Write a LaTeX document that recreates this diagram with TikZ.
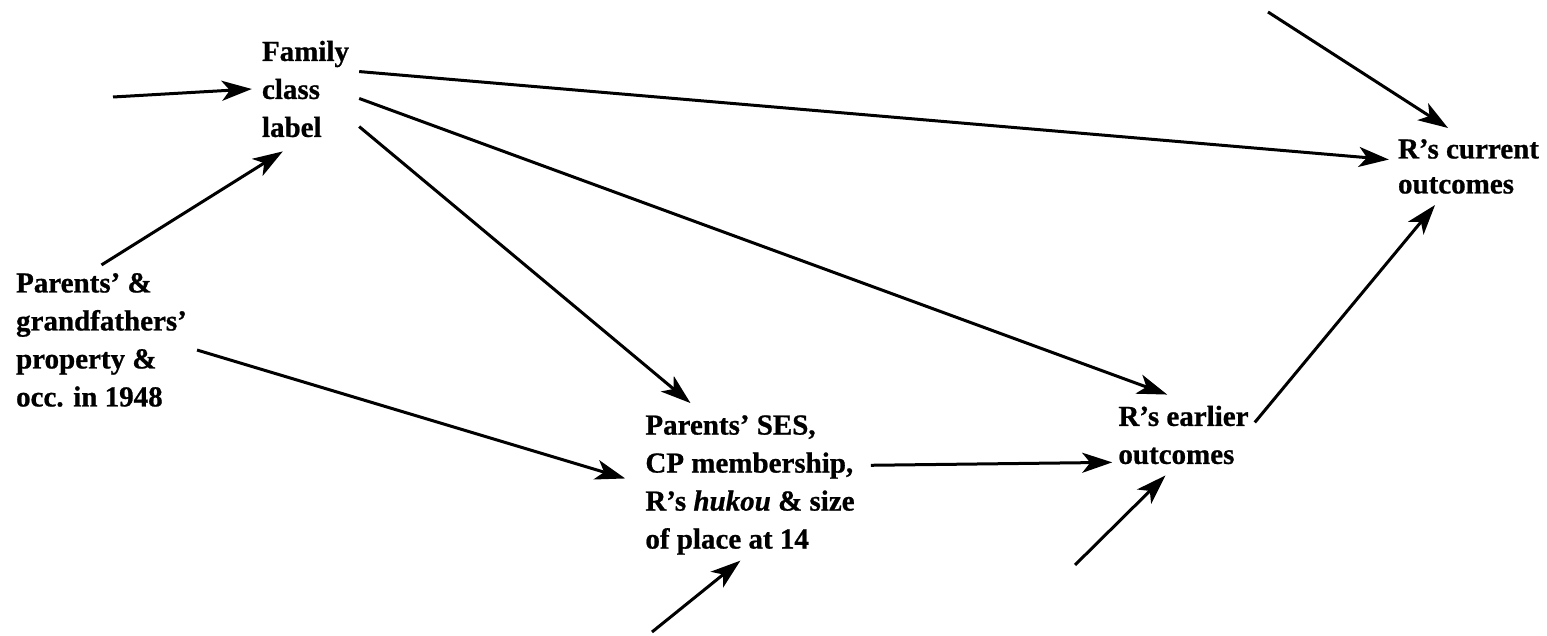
\documentclass[tikz,border=0pt]{standalone}
\usepackage{fontspec}
\setmainfont{Liberation Serif}[BoldFeatures={FakeBold=0.8},BoldItalicFeatures={FakeBold=0.8}]
\usetikzlibrary{arrows.meta}
\begin{document}
\begin{tikzpicture}[x=1pt,y=-1pt,
  lbl/.style={align=left, font=\fontsize{29}{38}\selectfont\bfseries, inner sep=0pt},
  arr/.style={line width=3pt, -{Stealth[length=30pt,width=20pt,inset=8pt]}}]
\useasboundingbox (0,0) rectangle (1547,636);
\node[lbl, inner xsep=10pt, inner ysep=14pt] (fam) at (305.5,89) {Family\\class\\label};
\node[lbl, inner xsep=10pt, inner ysep=8pt] (par) at (101.5,340) {Parents’ \&\\grandfathers’\\property \&\\occ. in 1948};
\node[lbl, inner xsep=20pt, inner ysep=12pt] (ses) at (750,485) {Parents’ SES,\\CP membership,\\R’s \textit{hukou} \& size\\of place at 14};
\node[lbl, inner xsep=6pt, inner ysep=11pt] (earl) at (1183.5,435) {R’s earlier\\outcomes};
\node[lbl, font=\fontsize{29}{35}\selectfont\bfseries, inner xsep=9pt, inner ysep=11pt] (cur) at (1468.5,166.5) {R’s current\\outcomes};
\coordinate (f1) at (113,97);
\coordinate (f9) at (1268,12);
\coordinate (f10) at (1075,565);
\coordinate (f11) at (652,632);
\draw[arr] (f1) -- (fam.west);
\draw[arr] (par.north) -- (fam.250);
\draw[arr] (fam.18) -- (cur.175);
\draw[arr] (fam.-10) -- (earl.112);
\draw[arr] (fam.-35) -- (ses.126);
\draw[arr] (par.-6) -- (ses.177);
\draw[arr, shorten <=-4pt] (ses.9) -- (earl.201);
\draw[arr] (earl.10) -- (cur.229);
\draw[arr] (f9) -- (cur.118);
\draw[arr] (f10) -- (earl.246);
\draw[arr, shorten >=-10pt] (f11) -- (ses.258);
\end{tikzpicture}
\end{document}
